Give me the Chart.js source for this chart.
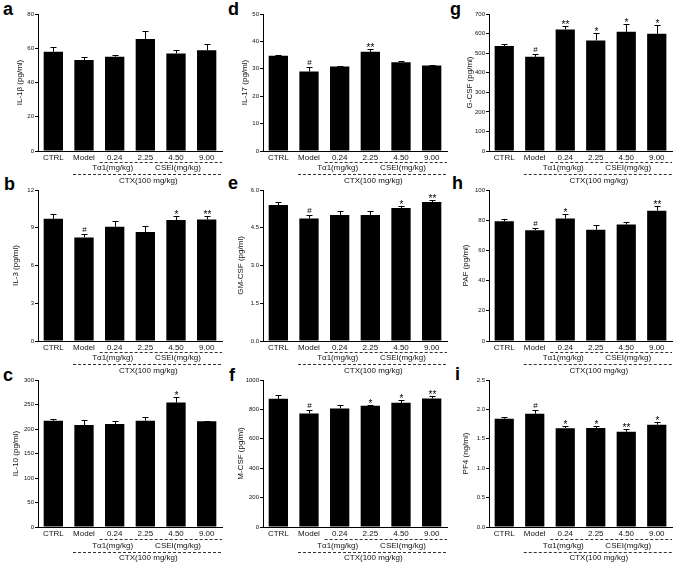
<!DOCTYPE html>
<html><head><meta charset="utf-8">
<script src="https://cdn.jsdelivr.net/npm/chart.js@4/dist/chart.umd.min.js"></script>
<style>
body{margin:0;background:#fff;width:675px;height:564px;position:relative;overflow:hidden;font-family:"Liberation Sans",Arial,sans-serif}
canvas{position:absolute}
.lt{position:absolute;font:bold 18px "Liberation Sans",Arial,sans-serif;color:#000;line-height:18px}
</style></head><body>
<div class="lt" style="left:3px;top:0px">a</div>
<div class="lt" style="left:4px;top:175px">b</div>
<div class="lt" style="left:3px;top:366px">c</div>
<div class="lt" style="left:228px;top:0px">d</div>
<div class="lt" style="left:228px;top:174px">e</div>
<div class="lt" style="left:229px;top:366px">f</div>
<div class="lt" style="left:450px;top:0px">g</div>
<div class="lt" style="left:452px;top:174px">h</div>
<div class="lt" style="left:455px;top:365px">i</div>
<script>
const categories = ['CTRL','Model','0.24','2.25','4.50','9.00'];
const groupLabels = ['Tα1(mg/kg)','CSEI(mg/kg)','CTX(100 mg/kg)'];

const il1bMean = [58.0,53.1,55.1,65.4,57.0,58.8];
const il1bErr  = [2.5,1.6,1.2,4.7,2.0,3.9];
const il1bSig  = ['','','','','',''];
const il1bTicks = [0,20,40,60,80];

const il3Mean = [9.71,8.23,9.08,8.66,9.61,9.66];
const il3Err  = [0.39,0.24,0.42,0.47,0.34,0.29];
const il3Sig  = ['','#','','','*','**'];
const il3Ticks = [0,3,6,9,12];

const il10Mean = [216.9,208,210,217,254,215.6];
const il10Err  = [4,11,6,7.5,11.7,1.4];
const il10Sig  = ['','','','','*',''];
const il10Ticks = [0,50,100,150,200,250,300];

const il17Mean = [34.8,29.0,30.85,36.2,32.4,31.2];
const il17Err  = [0.3,1.7,0.25,1.2,0.4,0.3];
const il17Sig  = ['','#','','**','',''];
const il17Ticks = [0,10,20,30,40,50];

const gmcsfMean = [5.40,4.87,5.01,5.01,5.28,5.52];
const gmcsfErr  = [0.14,0.13,0.16,0.16,0.09,0.10];
const gmcsfSig  = ['','#','','','*','**'];
const gmcsfTicks = [0,1.5,3.0,4.5,6.0];

const mcsfMean = [872,772,806,825,845,875];
const mcsfErr  = [23,23,25,6,18,16];
const mcsfSig  = ['','#','','*','*','**'];
const mcsfTicks = [0,200,400,600,800,1000];

const gcsfMean = [537,481,621,565,609,599];
const gcsfErr  = [12,14,17,36,38,46];
const gcsfSig  = ['','#','**','*','*','*'];
const gcsfTicks = [0,100,200,300,400,500,600,700];

const pafMean = [79.3,73.3,81.1,73.7,77.1,86.3];
const pafErr  = [1.8,1.5,2.7,2.9,1.8,2.9];
const pafSig  = ['','#','*','','','**'];
const pafTicks = [0,20,40,60,80,100];

const pf4Mean = [1.842,1.927,1.678,1.684,1.621,1.740];
const pf4Err  = [0.022,0.056,0.040,0.034,0.046,0.051];
const pf4Sig  = ['','#','*','*','**','*'];
const pf4Ticks = [0,0.5,1.0,1.5,2.0,2.5];

const FONT = '"Liberation Sans", Arial, sans-serif';
const cols = [{x:0,axis:38,right:222},{x:225,axis:263,right:447},{x:450,axis:489,right:672}];
const rows = [
  {top:14,bottom:151,tc:20,off:[11,17,23,30]},
  {top:190,bottom:341,tc:16,off:[11,17,23,30]},
  {top:380,bottom:527,tc:16,off:[12,19,25,31]}
];

const panels = [
  {col:0,row:0,title:'IL-1β (pg/ml)',m:il1bMean,e:il1bErr,s:il1bSig,t:il1bTicks,d:0},
  {col:0,row:1,title:'IL-3 (pg/ml)',m:il3Mean,e:il3Err,s:il3Sig,t:il3Ticks,d:0},
  {col:0,row:2,title:'IL-10 (pg/ml)',m:il10Mean,e:il10Err,s:il10Sig,t:il10Ticks,d:0},
  {col:1,row:0,title:'IL-17 (pg/ml)',m:il17Mean,e:il17Err,s:il17Sig,t:il17Ticks,d:0},
  {col:1,row:1,title:'GM-CSF (pg/ml)',m:gmcsfMean,e:gmcsfErr,s:gmcsfSig,t:gmcsfTicks,d:1},
  {col:1,row:2,title:'M-CSF (pg/ml)',m:mcsfMean,e:mcsfErr,s:mcsfSig,t:mcsfTicks,d:0},
  {col:2,row:0,title:'G-CSF (pg/ml)',m:gcsfMean,e:gcsfErr,s:gcsfSig,t:gcsfTicks,d:0},
  {col:2,row:1,title:'PAF (pg/ml)',m:pafMean,e:pafErr,s:pafSig,t:pafTicks,d:0},
  {col:2,row:2,title:'PF4 (ng/ml)',m:pf4Mean,e:pf4Err,s:pf4Sig,t:pf4Ticks,d:1}
];

panels.forEach(p => {
  const c = cols[p.col], r = rows[p.row];
  const cTop = r.top - 14, cH = (r.bottom + 37) - cTop, cW = 225;
  const cv = document.createElement('canvas');
  cv.width = cW; cv.height = cH;
  cv.style.left = c.x + 'px'; cv.style.top = cTop + 'px';
  cv.style.width = cW + 'px'; cv.style.height = cH + 'px';
  document.body.appendChild(cv);
  const axisRel = c.axis - c.x, rightRel = c.right - c.x, botRel = r.bottom - cTop;

  const overlay = {
    id:'overlay',
    afterDatasetsDraw(chart){
      const ctx = chart.ctx, ys = chart.scales.y, meta = chart.getDatasetMeta(0);
      ctx.save();
      ctx.strokeStyle = '#000'; ctx.lineWidth = 1; ctx.fillStyle = '#000';
      meta.data.forEach((bar,i) => {
        const x = Math.round(bar.x) + 0.5;
        const yb = ys.getPixelForValue(p.m[i]);
        const yt = Math.round(ys.getPixelForValue(p.m[i] + p.e[i])) + 0.5;
        ctx.beginPath(); ctx.moveTo(x, yb); ctx.lineTo(x, yt);
        ctx.moveTo(x - 3, yt); ctx.lineTo(x + 3, yt); ctx.stroke();
        const s = p.s[i];
        if (s) {
          ctx.textAlign = 'center'; ctx.textBaseline = 'alphabetic';
          if (s === '#') { ctx.font = '8px ' + FONT; ctx.fillText(s, x, yt - 3); }
          else { ctx.font = '10px ' + FONT; ctx.fillText(s, x, yt + 1.5); }
        }
      });
      ctx.restore();
    },
    afterDraw(chart){
      const ctx = chart.ctx, xs = chart.scales.x, ca = chart.chartArea;
      const px = i => xs.getPixelForValue(i);
      const b = ca.bottom, o = r.off;
      ctx.save();
      ctx.strokeStyle = '#333'; ctx.lineWidth = 1; ctx.setLineDash([3,2]);
      ctx.beginPath();
      ctx.moveTo(px(2) - 15, Math.round(b + o[0]) + 0.5); ctx.lineTo(ca.right, Math.round(b + o[0]) + 0.5);
      ctx.moveTo(px(1) - 11, Math.round(b + o[2]) + 0.5); ctx.lineTo(ca.right, Math.round(b + o[2]) + 0.5);
      ctx.stroke();
      ctx.setLineDash([]);
      ctx.fillStyle = '#111'; ctx.font = '8px ' + FONT;
      ctx.textAlign = 'center'; ctx.textBaseline = 'middle';
      ctx.fillText(groupLabels[0], px(2) - 2, b + o[1]);
      ctx.fillText(groupLabels[1], px(4) + 2, b + o[1]);
      ctx.fillText(groupLabels[2], (px(1) + px(5)) / 2 + 3, b + o[3]);
      ctx.restore();
    }
  };

  new Chart(cv, {
    type:'bar',
    data:{labels:categories, datasets:[{data:p.m, backgroundColor:'#000', borderWidth:0, barPercentage:1, categoryPercentage:0.63}]},
    options:{
      responsive:false, animation:false, devicePixelRatio:1,
      layout:{padding:{top:14, right:cW - rightRel, left:0, bottom:0}},
      plugins:{legend:{display:false}, tooltip:{enabled:false}},
      scales:{
        x:{
          grid:{display:false, drawTicks:false},
          border:{display:true, color:'#000', width:1},
          ticks:{font:{family:FONT,size:8}, color:'#111', padding:2, maxRotation:0, autoSkip:false},
          afterFit(s){ s.height = cH - botRel; }
        },
        y:{
          min:0, max:p.t[p.t.length-1],
          afterBuildTicks(s){ s.ticks = p.t.map(v => ({value:v})); },
          ticks:{font:{family:FONT,size:6}, color:'#111', padding:1, callback:v => Number(v).toFixed(p.d)},
          grid:{drawOnChartArea:false, drawTicks:true, tickLength:3, color:'#000', lineWidth:1},
          border:{display:true, color:'#000', width:1},
          title:{display:true, text:p.title, font:{family:FONT,size:8}, color:'#111', padding:{top:r.tc - 4.8, bottom:0}},
          afterFit(s){ s.width = axisRel; }
        }
      }
    },
    plugins:[overlay]
  });
});
</script>
</body></html>
